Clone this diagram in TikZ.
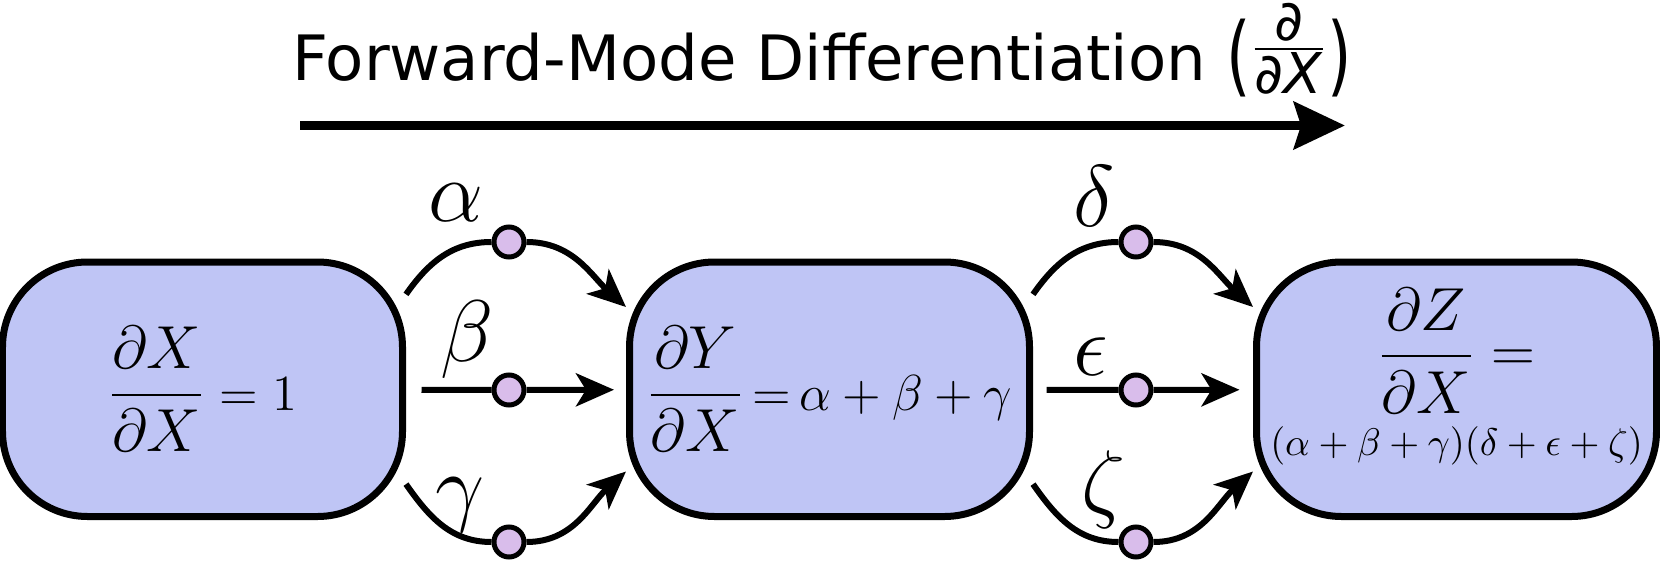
\documentclass[tikz,border=0pt]{standalone}
\usepackage{amsmath, amssymb}
\usepackage{graphicx}
\usepackage{fontspec}
\newfontfamily\titlefont{DejaVu Sans}
\usepackage{tikz}
\usetikzlibrary{positioning, arrows.meta}

\definecolor{boxblue}{RGB}{191,197,245}
\definecolor{dotlilac}{RGB}{217,189,235}

\begin{document}
\begin{tikzpicture}[
    derivbox/.style={
        rectangle, rounded corners=0.85cm,
        draw=black, line width=0.07cm, fill=boxblue,
        minimum width=4cm,
        minimum height=2.545cm,
        inner sep=0pt,
        text centered,
        font=\fontsize{17}{20}\selectfont
    },
    wdot/.style={
        circle, draw=black, line width=0.05cm, fill=dotlilac,
        minimum size=0.3cm, inner sep=0pt
    },
    wlabel/.style={inner sep=0pt, font=\fontsize{25}{30}\selectfont},
    flowline/.style={line width=0.06cm},
    flow/.style={line width=0.06cm, -{Stealth[length=0.38cm, width=0.33cm, inset=0.1cm]}},
    bigarrow/.style={line width=0.095cm, -{Stealth[length=0.51cm, width=0.47cm, inset=0.07cm]}}
]
\useasboundingbox (0,0) rectangle (16.6,-5.6);

% heading and direction arrow
\node[anchor=base, inner sep=0pt, font=\titlefont\fontsize{17.8}{22}\selectfont] (title) at (8.22,-0.80)
    {Forward-Mode Differentiation \raisebox{-0.05cm}{\scalebox{1}[1.4]{(}}\raisebox{0.16cm}{$\frac{\mbox{\fontsize{16}{18}\selectfont ∂}}{\mbox{\fontsize{16}{18}\selectfont ∂\textit{X}}}$}\raisebox{-0.05cm}{\scalebox{1}[1.4]{)}}};
\coordinate (fwdstart) at (3.0,-1.255);
\coordinate (fwdend) at (13.45,-1.255);
\draw[bigarrow] (fwdstart) -- (fwdend);

% the three derivative boxes
\node[derivbox] (dx) at (2.025,-3.8925)
    {$\dfrac{\partial X}{\partial X}$\fontsize{15.5}{18}\selectfont${}=1$};
\node[derivbox, right=2.2cm of dx] (dy)
    {$\dfrac{\partial Y}{\partial X}$\fontsize{15.5}{18}\selectfont$\,{=}\,\alpha+\beta+\gamma$};
\node[derivbox, right=2.2cm of dy, align=center] (dz)
    {$\dfrac{\partial Z}{\partial X} =$\\[0.1cm]
     {\fontsize{11.2}{13}\selectfont $(\alpha+\beta+\gamma)(\delta+\epsilon+\zeta)$\rule[-0.35cm]{0pt}{0.35cm}}};

% weights on the paths
\node[wdot] (wa) at (5.09,-2.42) {};
\node[wdot] (wb) at (5.09,-3.90) {};
\node[wdot] (wc) at (5.09,-5.42) {};
\node[wdot] (wd) at (11.36,-2.42) {};
\node[wdot] (we) at (11.36,-3.90) {};
\node[wdot] (wf) at (11.36,-5.42) {};

\node[wlabel] (la) at (4.56,-2.03) {$\alpha$};
\node[wlabel] (lb) at (4.67,-3.40) {$\beta$};
\node[wlabel] (lc) at (4.60,-5.05) {$\gamma$};
\node[wlabel] (ld) at (10.94,-1.96) {$\delta$};
\node[wlabel] (le) at (10.91,-3.57) {$\epsilon$};
\node[wlabel] (lf) at (11.03,-4.90) {$\zeta$};

% X -> Y
\draw[flowline] (dx.25) to[out=55,in=180] (wa);
\draw[flow] (wa) to[out=0,in=138] (dy.158);
\draw[flowline, shorten <=0.155cm] (dx) -- (wb);
\draw[flow, shorten >=0.12cm] (wb) -- (dy);
\draw[flowline] (dx.-25) to[out=-55,in=180] (wc);
\draw[flow] (wc) to[out=0,in=-138] (dy.202);

% Y -> Z
\draw[flowline] (dy.25) to[out=55,in=180] (wd);
\draw[flow] (wd) to[out=0,in=138] (dz.158);
\draw[flowline, shorten <=0.135cm] (dy) -- (we);
\draw[flow, shorten >=0.135cm] (we) -- (dz);
\draw[flowline] (dy.-25) to[out=-55,in=180] (wf);
\draw[flow] (wf) to[out=0,in=-138] (dz.202);

\end{tikzpicture}
\end{document}
